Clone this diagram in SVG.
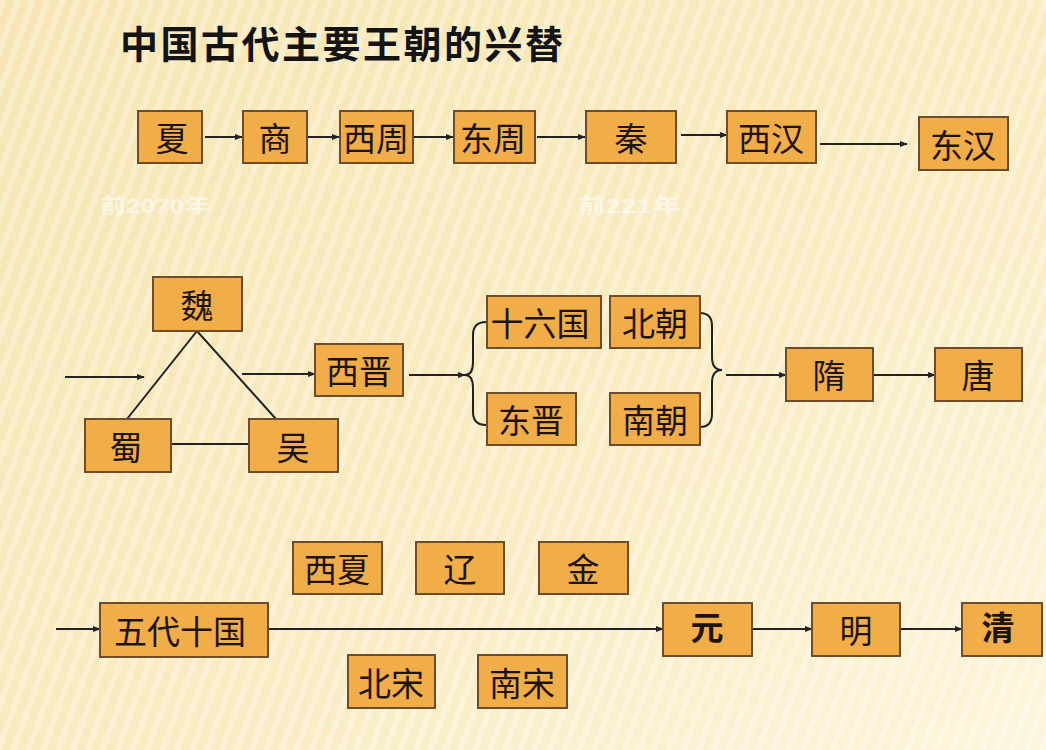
<svg xmlns="http://www.w3.org/2000/svg" width="1046" height="750" viewBox="0 0 1046 750">
  <defs>
    <linearGradient id="bg" x1="0" y1="0" x2="1" y2="1">
      <stop offset="0" stop-color="#f7e6b3"/>
      <stop offset="0.6" stop-color="#f9ecc3"/>
      <stop offset="1" stop-color="#fdf5dc"/>
    </linearGradient>
    <pattern id="stripes" patternUnits="userSpaceOnUse" width="14" height="14" patternTransform="rotate(20)">
      <rect x="0" y="0" width="6" height="14" fill="#ffffff" fill-opacity="0.3"/>
    </pattern>
    <marker id="arr" viewBox="0 0 10 10" refX="9" refY="5" markerWidth="8" markerHeight="8" markerUnits="userSpaceOnUse" orient="auto">
      <path d="M0,1 L10,5 L0,9 z" fill="#222"/>
    </marker>
    <style>
      .box { fill: #f1ad48; stroke: #6f4d2c; stroke-width: 2; }
      .lbl { font-family: "Noto Sans CJK SC", "Noto Sans CJK TC", sans-serif; font-size: 33px; fill: #1c140a; text-anchor: middle; dominant-baseline: central; }
      .bold { font-weight: 700; }
      .ln { stroke: #222; stroke-width: 2; fill: none; }
      .ar { stroke: #222; stroke-width: 2; fill: none; marker-end: url(#arr); }
      .faint { font-family: "Liberation Sans", "Noto Sans CJK SC", sans-serif; font-size: 20px; font-weight: 700; fill: #ffffff; fill-opacity: 0.55; dominant-baseline: central; }
    </style>
  </defs>

  <rect x="0" y="0" width="1046" height="750" fill="url(#bg)"/>
  <rect x="0" y="0" width="1046" height="750" fill="url(#stripes)"/>

  <text x="120" y="41" font-family="Noto Sans CJK SC, sans-serif" font-size="38" font-weight="700" fill="#141414" dominant-baseline="central" textLength="443" lengthAdjust="spacing">中国古代主要王朝的兴替</text>

  <text class="faint" x="100" y="206" textLength="110" lengthAdjust="spacingAndGlyphs">前2070年</text>
  <text class="faint" x="578" y="206" textLength="102" lengthAdjust="spacingAndGlyphs">前221年</text>

  <g id="connectors">
    <!-- row 1 -->
    <line class="ar" x1="205" y1="137" x2="242" y2="137"/>
    <line class="ar" x1="300" y1="137" x2="339" y2="137"/>
    <line class="ar" x1="410" y1="137" x2="453" y2="137"/>
    <line class="ar" x1="537" y1="137" x2="585" y2="137"/>
    <line class="ar" x1="681" y1="135" x2="727" y2="135"/>
    <line class="ar" x1="820" y1="144" x2="907" y2="144"/>
    <!-- row 2 -->
    <line class="ar" x1="65" y1="377" x2="144" y2="377"/>
    <polyline class="ln" points="127,419 197,331 276,419"/>
    <line class="ln" x1="171" y1="444" x2="249" y2="444"/>
    <line class="ar" x1="242" y1="374" x2="315" y2="374"/>
    <line class="ar" x1="409" y1="375" x2="465" y2="375"/>
    <path class="ln" d="M486,322 Q473,322 473,335 L473,362 Q473,375 465,375 Q473,375 473,388 L473,412 Q473,425 486,425"/>
    <path class="ln" d="M700,313 Q712,313 712,326 L712,357 Q712,370 722,370 Q712,370 712,383 L712,414 Q712,427 700,427"/>
    <line class="ar" x1="726" y1="375" x2="786" y2="375"/>
    <line class="ar" x1="873" y1="375" x2="935" y2="375"/>
    <!-- row 3 -->
    <line class="ar" x1="56" y1="629" x2="100" y2="629"/>
    <line class="ar" x1="268" y1="629" x2="663" y2="629"/>
    <line class="ar" x1="752" y1="629" x2="812" y2="629"/>
    <line class="ar" x1="900" y1="629" x2="962" y2="629"/>
  </g>

  <!-- row 1 -->
  <g id="xia"><rect class="box" x="138" y="111" width="64" height="52"/><text class="lbl" x="172" y="137">夏</text></g>
  <g id="shang"><rect class="box" x="243" y="111" width="64" height="52"/><text class="lbl" x="275" y="137">商</text></g>
  <g id="xizhou"><rect class="box" x="340" y="111" width="73" height="52"/><text class="lbl" x="376" y="137">西周</text></g>
  <g id="dongzhou"><rect class="box" x="454" y="111" width="81" height="52"/><text class="lbl" x="493" y="137">东周</text></g>
  <g id="qin"><rect class="box" x="586" y="111" width="90" height="52"/><text class="lbl" x="631" y="137">秦</text></g>
  <g id="xihan"><rect class="box" x="727" y="111" width="89" height="52"/><text class="lbl" x="771" y="137">西汉</text></g>
  <g id="donghan"><rect class="box" x="919" y="117" width="89" height="53"/><text class="lbl" x="963" y="144">东汉</text></g>

  <!-- row 2 -->
  <g id="wei"><rect class="box" x="153" y="277" width="89" height="54"/><text class="lbl" x="197" y="304">魏</text></g>
  <g id="shu"><rect class="box" x="85" y="419" width="86" height="53"/><text class="lbl" x="126" y="446">蜀</text></g>
  <g id="wu"><rect class="box" x="249" y="419" width="89" height="53"/><text class="lbl" x="293" y="446">吴</text></g>
  <g id="xijin"><rect class="box" x="315" y="344" width="88" height="52"/><text class="lbl" x="359" y="370">西晋</text></g>
  <g id="shiliuguo"><rect class="box" x="487" y="296" width="114" height="52"/><text class="lbl" x="540" y="322">十六国</text></g>
  <g id="beichao"><rect class="box" x="610" y="296" width="90" height="52"/><text class="lbl" x="655" y="322">北朝</text></g>
  <g id="dongjin"><rect class="box" x="487" y="393" width="89" height="52"/><text class="lbl" x="531" y="419">东晋</text></g>
  <g id="nanchao"><rect class="box" x="610" y="393" width="90" height="52"/><text class="lbl" x="655" y="419">南朝</text></g>
  <g id="sui"><rect class="box" x="786" y="348" width="87" height="53"/><text class="lbl" x="829" y="374">隋</text></g>
  <g id="tang"><rect class="box" x="935" y="348" width="87" height="53"/><text class="lbl" x="978" y="374">唐</text></g>

  <!-- row 3 -->
  <g id="xixia"><rect class="box" x="293" y="542" width="89" height="52"/><text class="lbl" x="337" y="568">西夏</text></g>
  <g id="liao"><rect class="box" x="416" y="542" width="88" height="52"/><text class="lbl" x="460" y="568">辽</text></g>
  <g id="jin"><rect class="box" x="539" y="542" width="89" height="52"/><text class="lbl" x="583" y="568">金</text></g>
  <g id="wudaishiguo"><rect class="box" x="100" y="603" width="168" height="54"/><text class="lbl" x="180" y="630">五代十国</text></g>
  <g id="beisong"><rect class="box" x="348" y="655" width="87" height="53"/><text class="lbl" x="391" y="682">北宋</text></g>
  <g id="nansong"><rect class="box" x="478" y="655" width="89" height="53"/><text class="lbl" x="522" y="682">南宋</text></g>
  <g id="yuan"><rect class="box" x="663" y="603" width="89" height="53"/><text class="lbl bold" x="707" y="626">元</text></g>
  <g id="ming"><rect class="box" x="812" y="603" width="88" height="53"/><text class="lbl" x="856" y="629">明</text></g>
  <g id="qing"><rect class="box" x="962" y="603" width="80" height="53"/><text class="lbl bold" x="998" y="626">清</text></g>
</svg>
